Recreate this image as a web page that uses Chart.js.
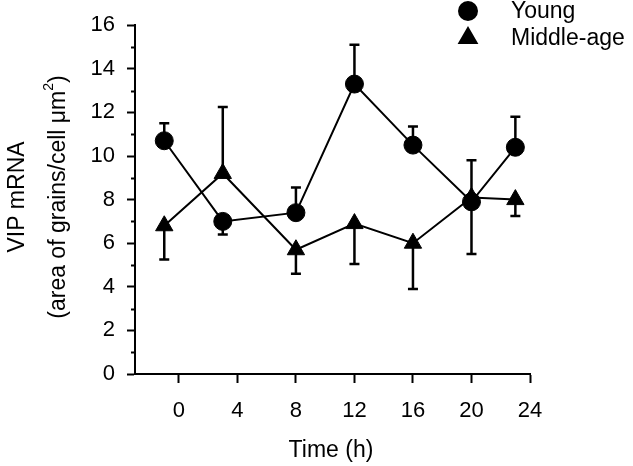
<!DOCTYPE html>
<html>
<head>
<meta charset="utf-8">
<script src="https://cdn.jsdelivr.net/npm/chart.js@4.4.0/dist/chart.umd.min.js"></script>
<style>
  html, body { margin: 0; padding: 0; background: #fff; }
</style>
</head>
<body>
<canvas id="vip" width="633" height="466"></canvas>
<script>
// ---- values ----
const timeHours = [-1, 3, 8, 12, 16, 20, 23];
const youngVals = [10.7, 7.0, 7.4, 13.3, 10.5, 7.9, 10.4];
const youngErr = [0.8, -0.6, 1.15, 1.8, 0.85, -2.4, 1.4];      // signed: bar goes up (+) or down (-)
const middleVals = [6.8, 9.2, 5.7, 6.9, 6.0, 8.1, 8.0];
const middleErr = [-1.55, 3.05, -1.1, -1.85, -2.1, 1.7, -0.75];
const seriesLabels = ["Young", "Middle-age"];
const xTicks = [0, 4, 8, 12, 16, 20, 24];
const yTicks = [0, 2, 4, 6, 8, 10, 12, 14, 16];
const yMinorTicks = [1, 3, 5, 7, 9, 11, 13, 15];
const xTitle = "Time (h)";
const yTitle1 = "VIP mRNA";
const yTitle2 = "(area of grains/cell \u03BCm";

const FONT = "'Liberation Sans', Arial, Helvetica, sans-serif";

// ---- helpers ----
function toPoints(xs, ys) {
  return xs.map((x, i) => ({ x: x, y: ys[i] }));
}

// error bars, one way only like the original
const errorBars = {
  id: "errorBars",
  afterDatasetsDraw(chart) {
    const { ctx, scales: { x, y } } = chart;
    ctx.save();
    ctx.strokeStyle = "#000";
    ctx.lineWidth = 2.5;
    chart.data.datasets.forEach(ds => {
      ds.data.forEach((p, i) => {
        const px = x.getPixelForValue(p.x);
        const y0 = y.getPixelForValue(p.y);
        const y1 = y.getPixelForValue(p.y + ds.errors[i]);
        ctx.beginPath();
        ctx.moveTo(px, y0);
        ctx.lineTo(px, y1);
        ctx.moveTo(px - 5, y1);
        ctx.lineTo(px + 5, y1);
        ctx.stroke();
      });
    });
    ctx.restore();
  }
};

// minor ticks on the y axis + axis titles + legend
const extras = {
  id: "extras",
  afterDraw(chart) {
    const { ctx, scales: { y } } = chart;
    ctx.save();
    ctx.strokeStyle = "#000";
    ctx.lineWidth = 2;
    yMinorTicks.forEach(v => {
      const py = Math.round(y.getPixelForValue(v)) + 0.5;
      ctx.beginPath();
      ctx.moveTo(y.right - 4, py);
      ctx.lineTo(y.right, py);
      ctx.stroke();
    });

    ctx.fillStyle = "#000";
    ctx.textBaseline = "middle";

    // x title
    ctx.font = "23px " + FONT;
    ctx.textAlign = "center";
    ctx.fillText(xTitle, 331, 451);

    // y title, two lines, rotated
    ctx.save();
    ctx.translate(18, 197);
    ctx.rotate(-Math.PI / 2);
    ctx.fillText(yTitle1, 0, 0);
    ctx.restore();

    ctx.save();
    ctx.translate(59, 197);
    ctx.rotate(-Math.PI / 2);
    ctx.font = "23px " + FONT;
    const w1 = ctx.measureText(yTitle2).width;
    ctx.font = "14px " + FONT;
    const w2 = ctx.measureText("2").width;
    ctx.font = "23px " + FONT;
    const w3 = ctx.measureText(")").width;
    const start = -(w1 + w2 + w3) / 2;
    ctx.textAlign = "left";
    ctx.fillText(yTitle2, start, 0);
    ctx.font = "14px " + FONT;
    ctx.fillText("2", start + w1, -10);
    ctx.font = "23px " + FONT;
    ctx.fillText(")", start + w1 + w2, 0);
    ctx.restore();

    // legend
    const rows = [11, 38];
    chart.data.datasets.forEach((ds, i) => {
      ctx.fillStyle = "#000";
      ctx.strokeStyle = "#000";
      Chart.helpers.drawPoint(ctx, {
        pointStyle: ds.pointStyle,
        radius: ds.pointRadius,
        rotation: 0,
        borderWidth: 1
      }, 468, rows[i]);
      ctx.font = "23px " + FONT;
      ctx.textAlign = "left";
      ctx.textBaseline = "middle";
      ctx.fillText(ds.label, 511, rows[i] + 1);
    });
    ctx.restore();
  }
};

const tickFont = { family: FONT, size: 22 };

new Chart(document.getElementById("vip"), {
  type: "line",
  data: {
    datasets: [
      {
        label: seriesLabels[0],
        data: toPoints(timeHours, youngVals),
        errors: youngErr,
        borderColor: "#000",
        backgroundColor: "#000",
        borderWidth: 2,
        pointStyle: "circle",
        pointRadius: 9,
        pointBorderWidth: 1,
        tension: 0
      },
      {
        label: seriesLabels[1],
        data: toPoints(timeHours, middleVals),
        errors: middleErr,
        borderColor: "#000",
        backgroundColor: "#000",
        borderWidth: 2,
        pointStyle: "triangle",
        pointRadius: 10,
        pointBorderWidth: 1,
        tension: 0
      }
    ]
  },
  options: {
    responsive: false,
    animation: false,
    devicePixelRatio: 1,
    layout: { padding: { top: 19, right: 103, left: 0, bottom: 0 } },
    plugins: {
      legend: { display: false },
      tooltip: { enabled: false }
    },
    scales: {
      x: {
        type: "linear",
        min: -3,
        max: 24,
        afterBuildTicks: s => { s.ticks = xTicks.map(v => ({ value: v })); },
        afterFit: s => { s.height = 92; },
        grid: { drawOnChartArea: false, drawTicks: true, tickLength: 9, tickWidth: 2, tickColor: "#000" },
        border: { display: true, width: 2, color: "#000" },
        ticks: { color: "#000", font: tickFont, padding: 15, maxRotation: 0, autoSkip: false }
      },
      y: {
        type: "linear",
        min: 0,
        max: 16,
        afterBuildTicks: s => { s.ticks = yTicks.map(v => ({ value: v })); },
        afterFit: s => { s.width = 135; },
        grid: { drawOnChartArea: false, drawTicks: true, tickLength: 8, tickWidth: 2, tickColor: "#000" },
        border: { display: true, width: 2, color: "#000" },
        ticks: { color: "#000", font: tickFont, padding: 12, autoSkip: false }
      }
    }
  },
  plugins: [errorBars, extras]
});
</script>
</body>
</html>
